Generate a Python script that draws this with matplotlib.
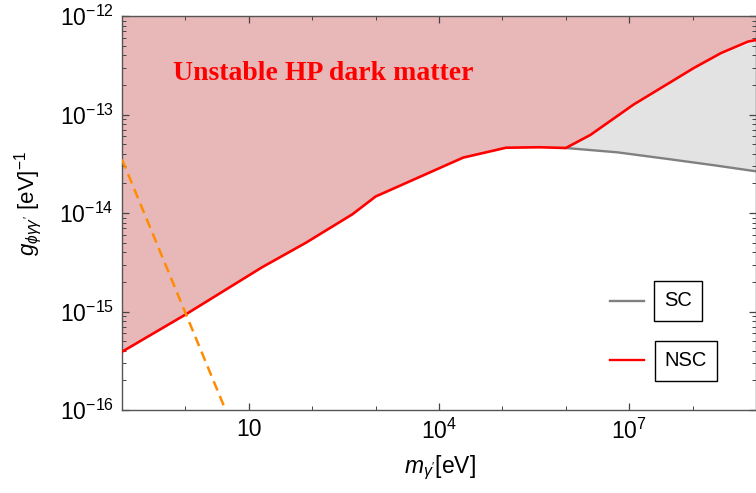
import matplotlib
matplotlib.use("Agg")
import matplotlib.pyplot as plt
import numpy as np
from matplotlib.ticker import FixedLocator, LogLocator, NullFormatter, FuncFormatter

plt.rcParams['font.family'] = ['Liberation Sans', 'DejaVu Sans']
plt.rcParams['mathtext.fontset'] = 'custom'
plt.rcParams['mathtext.rm'] = 'Liberation Sans'
plt.rcParams['mathtext.it'] = 'Liberation Sans:italic'
plt.rcParams['mathtext.bf'] = 'Liberation Sans:bold'

# NSC boundary (red)
m_nsc = [0.1, 1.0, 16, 80, 430, 1000, 2.4e4, 1.14e5, 3.9e5, 1.0e6,
         2.44e6, 1.17e7, 1.05e8, 2.8e8, 7.5e8, 1e9]
g_nsc = [3.9e-16, 9.3e-16, 2.8e-15, 5.0e-15, 9.7e-15, 1.47e-14, 3.65e-14,
         4.6e-14, 4.65e-14, 4.57e-14, 6.2e-14, 1.26e-13, 2.97e-13, 4.2e-13,
         5.5e-13, 5.7e-13]
# SC boundary (gray), only differs above ~1 MeV
m_sc = [1.0e6, 6.5e6, 4.0e7, 2.2e8, 1e9]
g_sc = [4.57e-14, 4.13e-14, 3.54e-14, 3.05e-14, 2.65e-14]
# orange dashed line
m_or = [0.1, 4.3]
g_or = [3.5e-14, 1.0e-16]

nsc_on_sc = np.interp(np.log10(m_sc), np.log10(m_nsc), np.log10(g_nsc))

fig = plt.figure(figsize=(7.56, 4.93), dpi=100)
ax = fig.add_axes([122/756, 83/493, 634/756, 394/493])
ax.set_xscale('log')
ax.set_yscale('log')
ax.set_xlim(0.1, 1e9)
ax.set_ylim(1e-16, 1e-12)

ax.fill_between(m_nsc, g_nsc, 1e-12, color='#e8b8b8', lw=0, zorder=1)
ax.fill_between(m_sc, g_sc, 10**nsc_on_sc, color='#e3e3e3', lw=0, zorder=1)
ax.plot(m_sc, g_sc, color='#808080', lw=1.7, zorder=2)
ax.plot(m_nsc, g_nsc, color='red', lw=1.9, zorder=3)
ax.plot(m_or, g_or, color='#ff8c00', lw=1.8, dashes=(4, 2.4), zorder=3)

ax.text(0.318, 0.853, 'Unstable HP dark matter', transform=ax.transAxes,
        color='red', fontsize=20, fontweight='bold', family='Liberation Serif',
        ha='center', va='center')

# legend drawn by hand
ax.plot([(610-122)/634, (644-122)/634], [(410-301)/394]*2, transform=ax.transAxes,
        color='#808080', lw=1.7, clip_on=False)
ax.plot([(610-122)/634, (644-122)/634], [(410-360)/394]*2, transform=ax.transAxes,
        color='red', lw=1.7, clip_on=False)
box = dict(boxstyle='square,pad=0.5', fc='white', ec='black', lw=1.0)
ax.text((678-122)/634, (410-301)/394, 'SC', transform=ax.transAxes, fontsize=14.5,
        ha='center', va='center', bbox=box)
ax.text((686-122)/634, (410-361)/394, 'NSC', transform=ax.transAxes, fontsize=14.5,
        ha='center', va='center', bbox=box)

def xfmt(v, pos):
    e = int(round(np.log10(v)))
    return '10' if e == 1 else r'$\mathregular{10^{%d}}$' % e

ax.xaxis.set_major_locator(FixedLocator([10, 1e4, 1e7]))
ax.xaxis.set_major_formatter(FuncFormatter(xfmt))
ax.xaxis.set_minor_locator(LogLocator(base=10, subs=(1.0,), numticks=30))
ax.xaxis.set_minor_formatter(NullFormatter())
ax.yaxis.set_major_locator(LogLocator(base=10, numticks=10))
ax.yaxis.set_major_formatter(FuncFormatter(lambda v, p: r'$\mathregular{10^{%d}}$' % int(round(np.log10(v)))))
ax.yaxis.set_minor_locator(LogLocator(base=10, subs=np.arange(2, 10), numticks=10))
ax.yaxis.set_minor_formatter(NullFormatter())

ax.tick_params(which='both', direction='in', top=True, right=True, color='#444444')
ax.tick_params(which='major', length=5, width=0.9, labelsize=16.5, pad=6)
ax.tick_params(which='minor', length=3, width=0.7)
for s in ax.spines.values():
    s.set_color('#555555')
    s.set_linewidth(1.0)

ax.set_xlabel(r"$m_{\gamma'}$[eV]", fontsize=16.5)
ax.set_ylabel(r"$g_{\phi\gamma\gamma'}$ [eV]$^{-1}$", fontsize=16)
ax.xaxis.set_label_coords((440-122)/634, -44/394)
ax.yaxis.set_label_coords(-(122-44)/634, (410-203)/394)

fig.savefig('out.png', dpi=100)
